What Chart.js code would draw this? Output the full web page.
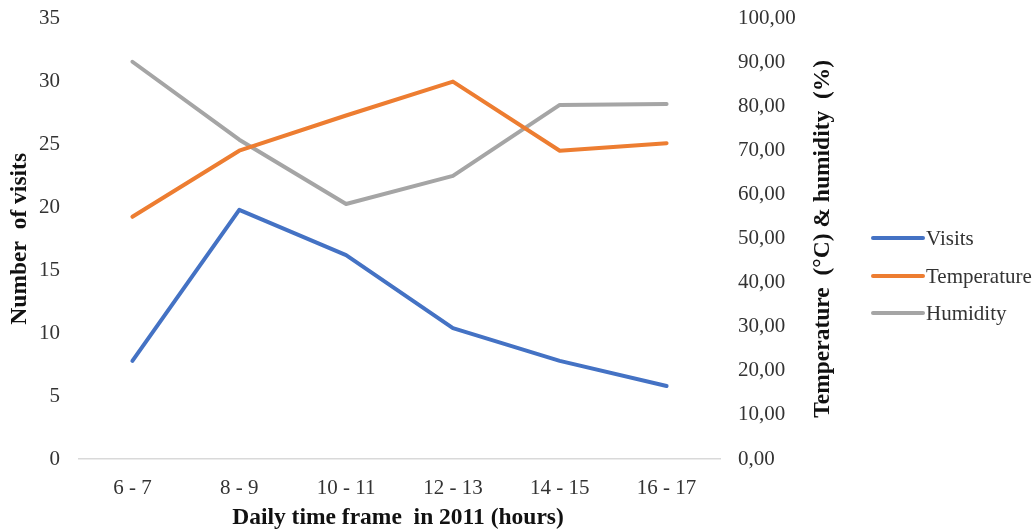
<!DOCTYPE html>
<html>
<head>
<meta charset="utf-8">
<script src="https://cdn.jsdelivr.net/npm/chart.js@4.4.1/dist/chart.umd.min.js"></script>
<style>
  html, body { margin: 0; padding: 0; background: #ffffff; }
  #wrap { width: 1035px; height: 532px; }
</style>
</head>
<body>
<div id="wrap"><canvas id="chart" width="1035" height="532"></canvas></div>
<script>
// Hourly time frames and the three measured series
const categories = ['6 - 7', '8 - 9', '10 - 11', '12 - 13', '14 - 15', '16 - 17'];
const visits = [7.8, 19.8, 16.2, 10.4, 7.8, 5.8];
const temperature = [55.0, 70.0, 78.0, 85.7, 70.0, 71.7];
const humidity = [90.2, 72.5, 57.9, 64.3, 80.4, 80.6];
const seriesNames = ['Visits', 'Temperature', 'Humidity'];

// Axis ranges and titles
const visitsAxis = { min: 0, max: 35, step: 5 };
const climateAxis = { min: 0, max: 100, step: 10 };
const xTitle = 'Daily time frame  in 2011 (hours)';
const leftTitle = 'Number  of visits';
const rightTitle = 'Temperature  (\u00B0C) & humidity  (%)';

const colors = ['#4472C4', '#ED7D31', '#A5A5A5'];
const serif = "'Liberation Serif', 'Times New Roman', serif";
const tickColor = '#333333';
const titleColor = '#111111';

const lineStyle = (i) => ({
  borderColor: colors[i],
  backgroundColor: colors[i],
  borderWidth: 4,
  pointRadius: 0,
  pointHoverRadius: 0,
  tension: 0,
  fill: false,
  borderCapStyle: 'round',
  borderJoinStyle: 'round'
});

// Fixed room above the plot for the top tick labels
const fitVertical = (width) => (scale) => {
  scale.width = width;
  scale.paddingTop = 18.6;
  scale.paddingBottom = 0;
};

// Axis titles and the legend are painted on the canvas after the chart
const decorations = {
  id: 'decorations',
  afterDraw(chart) {
    const ctx = chart.ctx;
    const area = chart.chartArea;
    const midY = (area.top + area.bottom) / 2;
    ctx.save();
    ctx.fillStyle = titleColor;
    ctx.textAlign = 'center';
    ctx.textBaseline = 'middle';
    ctx.font = 'bold 23.5px ' + serif;

    ctx.save();
    ctx.translate(19.5, midY);
    ctx.rotate(-Math.PI / 2);
    ctx.fillText(leftTitle, 0, 0);
    ctx.restore();

    ctx.save();
    ctx.translate(823, midY);
    ctx.rotate(-Math.PI / 2);
    ctx.fillText(rightTitle, 0, 0);
    ctx.restore();

    ctx.fillText(xTitle, 398, 518);

    // legend
    const legendY = [238, 276, 313];
    ctx.font = '21px ' + serif;
    ctx.textAlign = 'left';
    chart.data.datasets.forEach((ds, i) => {
      ctx.strokeStyle = ds.borderColor;
      ctx.lineWidth = 4;
      ctx.lineCap = 'round';
      ctx.beginPath();
      ctx.moveTo(873, legendY[i]);
      ctx.lineTo(923, legendY[i]);
      ctx.stroke();
      ctx.fillStyle = tickColor;
      ctx.fillText(ds.label, 926, legendY[i] + 1);
    });
    ctx.restore();
  }
};

new Chart(document.getElementById('chart'), {
  type: 'line',
  data: {
    labels: categories,
    datasets: [
      { label: seriesNames[0], data: visits, yAxisID: 'y', ...lineStyle(0) },
      { label: seriesNames[1], data: temperature, yAxisID: 'y1', ...lineStyle(1) },
      { label: seriesNames[2], data: humidity, yAxisID: 'y1', ...lineStyle(2) }
    ]
  },
  options: {
    responsive: false,
    animation: false,
    events: [],
    layout: { padding: 0 },
    plugins: {
      legend: { display: false },
      tooltip: { enabled: false },
      title: { display: false }
    },
    scales: {
      x: {
        offset: true,
        grid: { display: false, drawTicks: false },
        border: { display: true, color: '#D9D9D9', width: 1.5 },
        ticks: { color: tickColor, font: { family: serif, size: 21 }, padding: 17, maxRotation: 0, autoSkip: false },
        afterFit(scale) { scale.height = 73; }
      },
      y: {
        position: 'left',
        min: visitsAxis.min,
        max: visitsAxis.max,
        grid: { display: false, drawTicks: false },
        border: { display: false },
        ticks: { stepSize: visitsAxis.step, color: tickColor, font: { family: serif, size: 21 }, padding: 19 },
        afterFit: fitVertical(79)
      },
      y1: {
        position: 'right',
        min: climateAxis.min,
        max: climateAxis.max,
        grid: { display: false, drawTicks: false },
        border: { display: false },
        ticks: {
          stepSize: climateAxis.step,
          color: tickColor,
          font: { family: serif, size: 21 },
          padding: 18,
          callback: (v) => Number(v).toFixed(2).replace('.', ',')
        },
        afterFit: fitVertical(315)
      }
    }
  },
  plugins: [decorations]
});
</script>
</body>
</html>
